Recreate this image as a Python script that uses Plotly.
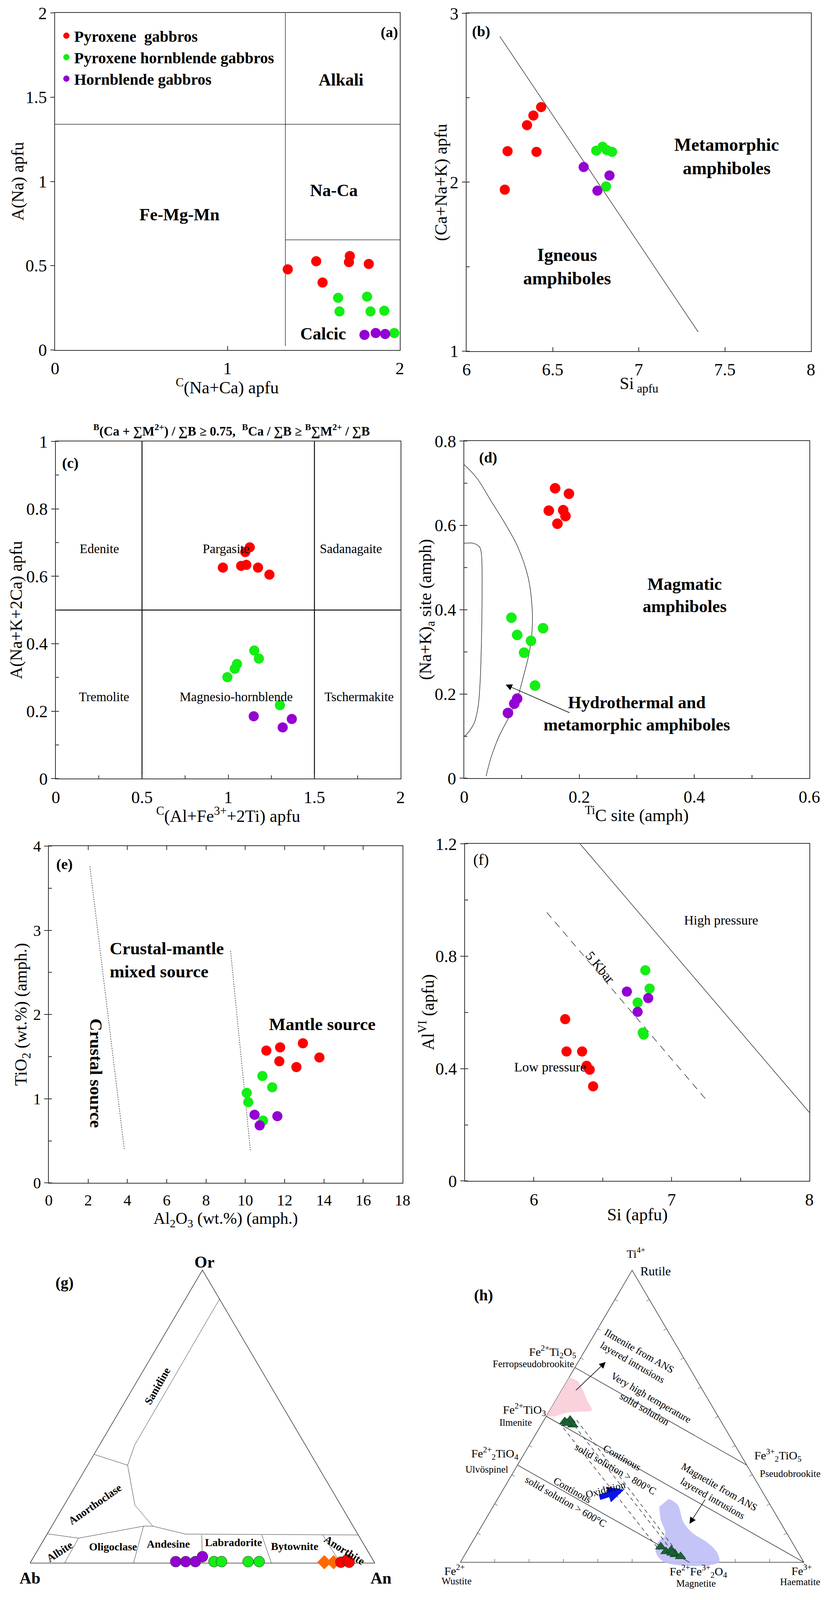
import numpy as np
import plotly.graph_objects as go

W, H = 2113, 4164
OFF = 8                      # default <body> margin of the written page
SY = 0.981                   # vertical fit so the whole sheet stays inside the visible page
FW = W - 2 * OFF
FH = 4066
SERIF = "Liberation Serif, Times New Roman, serif"
RED, GREEN, PURPLE, ORANGE = "#ff0000", "#14ee14", "#9400d3", "#ff6a00"
AX = "#333333"
SUF = {"a": "", "b": "2", "c": "3", "d": "4", "e": "5", "f": "6", "g": "7", "h": "8"}

# ---------------- (a) C(Na+Ca) vs A(Na)
a_red_x = [1.350, 1.515, 1.710, 1.705, 1.820, 1.552]
a_red_y = [0.478, 0.526, 0.557, 0.521, 0.510, 0.400]
a_green_x = [1.642, 1.810, 1.650, 1.830, 1.910, 1.968]
a_green_y = [0.309, 0.316, 0.228, 0.228, 0.232, 0.100]
a_purple_x = [1.795, 1.860, 1.915]
a_purple_y = [0.089, 0.100, 0.094]
a_split_x = 1.336
a_split_y = [1.339, 0.653]

# ---------------- (b) Si vs Ca+Na+K
b_red_x = [6.222, 6.238, 6.406, 6.351, 6.388, 6.433]
b_red_y = [1.956, 2.184, 2.180, 2.338, 2.395, 2.445]
b_green_x = [6.753, 6.790, 6.815, 6.845, 6.810]
b_green_y = [2.187, 2.210, 2.190, 2.180, 1.975]
b_purple_x = [6.680, 6.830, 6.760]
b_purple_y = [2.090, 2.040, 1.950]
b_line_x = [6.193, 7.345]
b_line_y = [2.864, 1.113]

# ---------------- (c) C(Al+Fe3+2Ti) vs A(Na+K+2Ca)
c_red_x = [0.969, 1.075, 1.105, 1.173, 1.239, 1.099, 1.125]
c_red_y = [0.626, 0.631, 0.634, 0.626, 0.605, 0.672, 0.686]
c_green_x = [1.151, 1.178, 1.051, 1.038, 0.995, 1.300]
c_green_y = [0.380, 0.356, 0.340, 0.326, 0.301, 0.218]
c_purple_x = [1.148, 1.316, 1.369]
c_purple_y = [0.185, 0.152, 0.177]

# ---------------- (d) Ti(C) vs (Na+K)A
d_red_x = [0.158, 0.182, 0.147, 0.172, 0.176, 0.162]
d_red_y = [0.688, 0.675, 0.635, 0.636, 0.622, 0.604]
d_green_x = [0.082, 0.092, 0.116, 0.137, 0.104, 0.123]
d_green_y = [0.381, 0.340, 0.326, 0.356, 0.298, 0.220]
d_purple_x = [0.076, 0.087, 0.092]
d_purple_y = [0.155, 0.177, 0.189]
d_outer_x = [0.0, 0.022, 0.047, 0.072, 0.093, 0.111, 0.118, 0.118, 0.113, 0.102, 0.093, 0.079, 0.060, 0.047, 0.038]
d_outer_y = [0.744, 0.712, 0.657, 0.602, 0.549, 0.477, 0.405, 0.352, 0.298, 0.237, 0.193, 0.149, 0.098, 0.051, 0.005]
d_inner_x = [0.0, 0.017, 0.027, 0.030, 0.031, 0.030, 0.0276, 0.024, 0.017, 0.004, 0.0]
d_inner_y = [0.5575, 0.557, 0.548, 0.530, 0.45, 0.33, 0.228, 0.169, 0.130, 0.104, 0.100]

# ---------------- (e) Al2O3 vs TiO2
e_red_x = [11.07, 11.77, 12.93, 13.77, 11.73, 12.60]
e_red_y = [1.572, 1.610, 1.659, 1.490, 1.445, 1.376]
e_green_x = [10.87, 11.37, 10.07, 10.15, 10.90]
e_green_y = [1.270, 1.136, 1.070, 0.960, 0.740]
e_purple_x = [10.47, 10.73, 11.63]
e_purple_y = [0.810, 0.683, 0.793]
e_crust_x = [2.09, 3.84]
e_crust_y = [3.76, 0.40]
e_mix_x = [9.25, 10.26]
e_mix_y = [2.755, 0.38]

# ---------------- (f) Si vs AlVI
f_red_x = [6.227, 6.237, 6.350, 6.383, 6.405, 6.430]
f_red_y = [0.576, 0.461, 0.461, 0.410, 0.396, 0.337]
f_green_x = [6.809, 6.840, 6.753, 6.790, 6.797]
f_green_y = [0.750, 0.685, 0.635, 0.528, 0.521]
f_purple_x = [6.675, 6.830, 6.753]
f_purple_y = [0.674, 0.651, 0.602]
f_high_x = [6.335, 8.0]
f_high_y = [1.2, 0.244]
f_5kbar_x = [6.094, 7.25]
f_5kbar_y = [0.956, 0.290]

# ---------------- (g) feldspar Or-Ab-An (percent)
g_purple_an = [42.0, 44.9, 47.7, 48.9]
g_purple_or = [0.5, 0.5, 0.5, 2.2]
g_green_an = [53.1, 55.3, 63.0, 66.2]
g_green_or = [0.5, 0.5, 0.5, 0.5]
g_red_an = [90.0, 91.4, 92.4]
g_red_or = [0.3, 1.1, 0.3]
g_orange_an = [85.2, 87.9]
g_orange_or = [0.3, 0.3]
g_base_or = [10.0, 8.5, 12.6, 12.6, 9.9, 9.6]
g_base_an = [0.0, 9.8, 26.6, 29.3, 40.1, 90.4]
g_anor_or = [37.1, 33.4, 19.8, 12.6]
g_anor_an = [0.0, 11.6, 20.5, 29.3]
g_san_or = [33.4, 40.3, 90.1]
g_san_an = [11.6, 10.2, 9.9]
g_div_an_bottom = [10.0, 30.0, 50.0, 70.0, 90.0]
g_div_or_top = [8.5, 12.6, 9.6, 9.6, 9.6]
g_div_an_top = [9.8, 26.6, 45.0, 62.4, 80.1]

# ---------------- (h) Ti4+ - Fe2+ - Fe3+ (fractions: Ti, Fe3+)
h_ilm_ti = [0.482, 0.487, 0.471, 0.476]
h_ilm_fe3 = [0.063, 0.076, 0.092, 0.072]
h_mt_ti = [0.053, 0.037, 0.042, 0.027, 0.020, 0.032]
h_mt_fe3 = [0.557, 0.580, 0.593, 0.612, 0.631, 0.600]
h_pink_ti = [0.633, 0.619, 0.587, 0.550, 0.521, 0.516, 0.513, 0.500, 0.500]
h_pink_fe3 = [0.0, 0.033, 0.064, 0.096, 0.122, 0.092, 0.055, 0.024, 0.0]
h_blue_ti = [0.217, 0.196, 0.138, 0.101, 0.069, 0.032, 0.0, 0.0, 0.037, 0.069, 0.095, 0.148, 0.190]
h_blue_fe3 = [0.498, 0.535, 0.580, 0.625, 0.683, 0.732, 0.752, 0.595, 0.550, 0.541, 0.549, 0.509, 0.484]
h_join_ti = [[0.667, 0.333], [0.5, 0.0], [0.333, 0.0]]
h_join_fe3 = [[0.0, 0.667], [0.0, 1.0], [0.0, 0.667]]
h_dash_ti = [[0.460, 0.042], [0.487, 0.037], [0.487, 0.032]]
h_dash_fe3 = [[0.070, 0.558], [0.076, 0.599], [0.095, 0.617]]
h_arrow_ti = [[0.587, 0.686], [0.217, 0.132]]
h_arrow_fe3 = [[0.041, 0.080], [0.605, 0.601]]
h_oxid_ti = [0.222, 0.249]
h_oxid_fe3 = [0.2925, 0.352]


def tern(top, right):
    top = np.asarray(top, float)
    right = np.asarray(right, float)
    return right + top / 2, top * np.sqrt(3) / 2


def clamp(v):
    return min(1.0, max(0.0, v))


def fx(px):
    return (px - OFF) / FW


def fy(py):
    return 1 - (py * SY - OFF) / FH


PY_MAX = (FH + OFF) / SY     # lowest sheet row that still falls inside the figure

fig = go.Figure()
notes = []


def frame(p, xpx, ypx, xr, yr, xdt, ydt, xminor=None, yminor=None, xmirror=True, tsize=44):
    s = SUF[p]
    base = dict(showgrid=False, zeroline=False, showline=True, linecolor=AX, linewidth=2,
                tickcolor=AX, tickwidth=1.5, ticklen=10, automargin=False,
                tickfont=dict(family=SERIF, size=tsize, color="black"))
    xa = dict(base, domain=[clamp(fx(xpx[0])), clamp(fx(xpx[1]))], range=xr, dtick=xdt,
              ticks="inside", mirror=xmirror, anchor="y" + s, ticklabelstandoff=8)
    if xminor:
        xa["minor"] = dict(dtick=xminor, ticks="inside", ticklen=8, tickcolor=AX)
    ya = dict(base, domain=[clamp(fy(ypx[1])), clamp(fy(ypx[0]))], range=yr, dtick=ydt,
              ticks="outside", mirror=True, anchor="x" + s)
    if yminor:
        ya["minor"] = dict(dtick=yminor, ticks="inside", ticklen=8, tickcolor=AX)
    fig.update_layout({"xaxis" + s: xa, "yaxis" + s: ya})


def hidden(p, xpx, ypx, origin, scale):
    # invisible axes whose unit is `scale` sheet pixels, with (0, 0) at sheet pixel `origin`
    s = SUF[p]
    xr = [(xpx[0] - origin[0]) / scale, (xpx[1] - origin[0]) / scale]
    yr = [(origin[1] - ypx[1]) / scale, (origin[1] - ypx[0]) / scale]
    fig.update_layout({
        "xaxis" + s: dict(domain=[clamp(fx(xpx[0])), clamp(fx(xpx[1]))], range=xr,
                          visible=False, anchor="y" + s),
        "yaxis" + s: dict(domain=[clamp(fy(ypx[1])), clamp(fy(ypx[0]))], range=yr,
                          visible=False, anchor="x" + s),
    })


def dots(p, xs, ys, color, name, legend=False, size=26, symbol="circle", line=None):
    s = SUF[p]
    fig.add_trace(go.Scatter(x=xs, y=ys, mode="markers", xaxis="x" + s, yaxis="y" + s,
                             name=name, legendgroup=name, showlegend=legend, hoverinfo="skip",
                             marker=dict(color=color, size=size, symbol=symbol,
                                         line=line or dict(width=0))))


def path(p, xs, ys, width=1.5, dash="solid", color=AX, shape="linear"):
    s = SUF[p]
    fig.add_trace(go.Scatter(x=xs, y=ys, mode="lines", xaxis="x" + s, yaxis="y" + s,
                             showlegend=False, hoverinfo="skip",
                             line=dict(color=color, width=width, dash=dash, shape=shape)))


def note(p, x, y, text, size=44, bold=False, angle=0, xanchor="center", align="center"):
    s = SUF[p]
    notes.append(dict(xref="x" + s, yref="y" + s, x=x, y=y, text=text, showarrow=False,
                      textangle=angle, xanchor=xanchor, yanchor="middle", align=align,
                      font=dict(family=SERIF, size=size, color="black",
                                weight="bold" if bold else "normal")))


def ptitle(xpx, ypx, text, angle=0, size=44, bold=False):
    notes.append(dict(xref="paper", yref="paper", x=fx(xpx), y=fy(ypx), text=text,
                      showarrow=False, textangle=angle, xanchor="center", yanchor="middle",
                      font=dict(family=SERIF, size=size, color="black",
                                weight="bold" if bold else "normal")))


def arrow(p, x, y, ax, ay, color="black", width=1.5, size=2.0, head=2):
    s = SUF[p]
    notes.append(dict(xref="x" + s, yref="y" + s, axref="x" + s, ayref="y" + s,
                      x=x, y=y, ax=ax, ay=ay, text="", showarrow=True, arrowhead=head,
                      arrowsize=size, arrowwidth=width, arrowcolor=color))


# ---------- frames
frame("a", (141, 1024), (34, 913), [0, 2], [0, 2], 1, 0.5)
frame("b", (1195, 2077), (35, 916), [6, 8], [1, 3], 0.5, 1, yminor=0.5)
frame("c", (143, 1026), (1152, 2032), [0, 2], [0, 1], 0.5, 0.2, xminor=0.25, yminor=0.1)
frame("d", (1189, 2073), (1151, 2031), [0, 0.6], [0, 0.8], 0.2, 0.2, xminor=0.1, yminor=0.1)
frame("e", (125, 1031), (2208, 3087), [0, 18], [0, 4], 2, 1, yminor=0.5, xmirror="ticks", tsize=40)
frame("f", (1191, 2073), (2202, 3082), [5.5, 8], [0, 1.2], 1, 0.4, xminor=0.5, yminor=0.2)
hidden("g", (OFF, 1056), (3250, PY_MAX), (77, 4079), 883)
hidden("h", (1056, W - OFF), (3250, PY_MAX), (1179, 4077), 880)

# ---------- axis titles
ptitle(582, 1009, "<sup>C</sup>(Na+Ca) apfu")
ptitle(45, 473, "A(Na) apfu", -90)
ptitle(1636, 1004, "Si<sub> apfu</sub>")
ptitle(1130, 476, "(Ca+Na+K) apfu", -90)
ptitle(584, 2127, "<sup>C</sup>(Al+Fe<sup>3+</sup>+2Ti) apfu")
ptitle(42, 1592, "A(Na+K+2Ca) apfu", -90)
ptitle(1631, 2125, "<sup>Ti</sup>C site (amph)")
ptitle(1093, 1591, "(Na+K)<sub>a</sub> site (amph)", -90)
ptitle(578, 3182, "Al<sub>2</sub>O<sub>3</sub> (wt.%) (amph.)", size=42)
ptitle(57, 2647, "TiO<sub>2</sub> (wt.%) (amph.)", -90)
ptitle(1632, 3170, "Si (apfu)")
ptitle(1093, 2642, "Al<sup>VI</sup> (apfu)", -90)
ptitle(593, 1123, "<sup>B</sup>(Ca + ∑M<sup>2+</sup>) / ∑B ≥ 0.75,  <sup>B</sup>Ca / ∑B ≥ "
                  "<sup>B</sup>∑M<sup>2+</sup> / ∑B", size=33, bold=True)

# ---------- (a)
path("a", [a_split_x, a_split_x], [0.023, 2], width=1.5)
path("a", [0, 2], [a_split_y[0]] * 2, width=1.5)
path("a", [a_split_x, 2], [a_split_y[1]] * 2, width=1.5)
dots("a", a_red_x, a_red_y, RED, "Pyroxene  gabbros", legend=True)
dots("a", a_green_x, a_green_y, GREEN, "Pyroxene hornblende gabbros", legend=True)
dots("a", a_purple_x, a_purple_y, PURPLE, "Hornblende gabbros", legend=True)
note("a", 1.660, 1.602, "Alkali", 44, True)
note("a", 1.617, 0.947, "Na-Ca", 44, True)
note("a", 0.722, 0.803, "Fe-Mg-Mn", 44, True)
note("a", 1.556, 0.096, "Calcic", 44, True)
note("a", 1.939, 1.886, "(a)", 38, True)

# ---------- (b)
path("b", b_line_x, b_line_y, width=1.5)
dots("b", b_red_x, b_red_y, RED, "Pyroxene  gabbros")
dots("b", b_green_x, b_green_y, GREEN, "Pyroxene hornblende gabbros")
dots("b", b_purple_x, b_purple_y, PURPLE, "Hornblende gabbros")
note("b", 7.51, 2.153, "Metamorphic<br>amphiboles", 46, True)
note("b", 6.585, 1.50, "Igneous<br>amphiboles", 46, True)
note("b", 6.084, 2.893, "(b)", 38, True)

# ---------- (c)
path("c", [0.5, 0.5], [0, 1], width=2.5, color="#111")
path("c", [1.5, 1.5], [0, 1], width=2.5, color="#111")
path("c", [0, 2], [0.5, 0.5], width=2.5, color="#111")
dots("c", c_red_x, c_red_y, RED, "Pyroxene  gabbros")
dots("c", c_green_x, c_green_y, GREEN, "Pyroxene hornblende gabbros")
dots("c", c_purple_x, c_purple_y, PURPLE, "Hornblende gabbros")
for tx, ty, txt in [(0.252, 0.682, "Edenite"), (0.988, 0.682, "Pargasite"),
                    (1.712, 0.682, "Sadanagaite"), (0.279, 0.242, "Tremolite"),
                    (1.046, 0.242, "Magnesio-hornblende"), (1.758, 0.242, "Tschermakite")]:
    note("c", tx, ty, txt, 33)
note("c", 0.084, 0.936, "(c)", 38, True)

# ---------- (d)
path("d", d_outer_x, d_outer_y, width=1.5, shape="spline")
path("d", d_inner_x, d_inner_y, width=1.5, shape="spline")
dots("d", d_red_x, d_red_y, RED, "Pyroxene  gabbros", size=27)
dots("d", d_green_x, d_green_y, GREEN, "Pyroxene hornblende gabbros", size=27)
dots("d", d_purple_x, d_purple_y, PURPLE, "Hornblende gabbros", size=27)
arrow("d", 0.072, 0.222, 0.184, 0.155, width=1.5, size=2.2)
note("d", 0.383, 0.434, "Magmatic<br>amphiboles", 44, True)
note("d", 0.300, 0.153, "Hydrothermal and<br>metamorphic amphiboles", 44, True)
note("d", 0.0414, 0.761, "(d)", 38, True)

# ---------- (e)
path("e", e_crust_x, e_crust_y, width=1.5, dash="dot")
path("e", e_mix_x, e_mix_y, width=1.5, dash="dot")
dots("e", e_red_x, e_red_y, RED, "Pyroxene  gabbros")
dots("e", e_green_x, e_green_y, GREEN, "Pyroxene hornblende gabbros")
dots("e", e_purple_x, e_purple_y, PURPLE, "Hornblende gabbros")
note("e", 3.05, 2.649, "Crustal-mantle<br>mixed source", 45, True, xanchor="left", align="left")
note("e", 13.91, 1.886, "Mantle source", 45, True)
note("e", 2.39, 1.303, "Crustal source", 45, True, angle=90)
note("e", 0.80, 3.786, "(e)", 38, True)

# ---------- (f)
path("f", f_high_x, f_high_y, width=1.5)
path("f", f_5kbar_x, f_5kbar_y, width=1.5, dash="18px,14px")
dots("f", f_red_x, f_red_y, RED, "Pyroxene  gabbros")
dots("f", f_green_x, f_green_y, GREEN, "Pyroxene hornblende gabbros")
dots("f", f_purple_x, f_purple_y, PURPLE, "Hornblende gabbros")
note("f", 7.358, 0.929, "High pressure", 34)
note("f", 6.119, 0.406, "Low pressure", 34)
note("f", 6.482, 0.760, "5 Kbar", 34, angle=50)
note("f", 5.617, 1.144, "(f)", 40)

# ---------- (g) feldspar ternary
gx, gy = tern([0, 0, 1, 0], [0, 1, 0, 0])
path("g", gx, gy, width=1.5)
for o_arr, a_arr in [(g_base_or, g_base_an), (g_anor_or, g_anor_an), (g_san_or, g_san_an)]:
    lx, ly = tern(np.array(o_arr) / 100, np.array(a_arr) / 100)
    path("g", lx, ly, width=1)
for an0, ot, at in zip(g_div_an_bottom, g_div_or_top, g_div_an_top):
    lx, ly = tern([0, ot / 100], [an0 / 100, at / 100])
    path("g", lx, ly, width=1)
mline = dict(width=1, color="#333")
for o_arr, a_arr, col, sym in [(g_purple_or, g_purple_an, PURPLE, "circle"),
                               (g_green_or, g_green_an, GREEN, "circle"),
                               (g_orange_or, g_orange_an, ORANGE, "diamond"),
                               (g_red_or, g_red_an, RED, "circle")]:
    px_, py_ = tern(np.array(o_arr) / 100, np.array(a_arr) / 100)
    dots("g", px_, py_, col, "g", size=28, symbol=sym,
         line=mline if sym == "circle" else dict(width=0))
note("g", 0.506, 0.890, "Or", 42, True)
note("g", 0.0, -0.044, "Ab", 42, True)
note("g", 1.018, -0.044, "An", 42, True)
note("g", 0.0997, 0.829, "(g)", 40, True)
for tx, ty, txt, ang in [(0.369, 0.523, "Sanidine", -60), (0.189, 0.174, "Anorthoclase", -35),
                         (0.085, 0.034, "Albite", -33), (0.241, 0.048, "Oligoclase", 0),
                         (0.401, 0.057, "Andesine", 0), (0.590, 0.061, "Labradorite", 0),
                         (0.767, 0.050, "Bytownite", 0), (0.912, 0.0385, "Anorthite", 32)]:
    note("g", tx, ty, txt, 28, True, angle=ang)

# ---------- (h) Fe-Ti oxide ternary
corners = np.array(tern([0, 0, 1], [0, 1, 0])).T
hx, hy = tern([0, 0, 1, 0], [0, 1, 0, 0])
path("h", hx, hy, width=1.5)
centre = corners.mean(axis=0)
tx_, ty_ = [], []
for i in range(3):
    p0, p1 = corners[i], corners[(i + 1) % 3]
    d = p1 - p0
    n = np.array([-d[1], d[0]]) / np.linalg.norm(d)
    if np.dot(centre - p0, n) < 0:
        n = -n
    for k in range(1, 10):
        q = p0 + d * k / 10
        tx_ += [q[0], q[0] + n[0] * 0.01, None]
        ty_ += [q[1], q[1] + n[1] * 0.01, None]
path("h", tx_, ty_, width=1)

px_, py_ = tern(h_pink_ti, h_pink_fe3)
fig.add_trace(go.Scatter(x=px_, y=py_, xaxis="x8", yaxis="y8", mode="lines", fill="toself",
                         fillcolor="rgba(248,205,215,0.9)", line=dict(width=0, shape="spline"),
                         showlegend=False, hoverinfo="skip"))
px_, py_ = tern(h_blue_ti, h_blue_fe3)
fig.add_trace(go.Scatter(x=px_, y=py_, xaxis="x8", yaxis="y8", mode="lines", fill="toself",
                         fillcolor="rgba(190,190,245,0.9)", line=dict(width=0, shape="spline"),
                         showlegend=False, hoverinfo="skip"))
for ti, fe in zip(h_join_ti, h_join_fe3):
    lx, ly = tern(ti, fe)
    path("h", lx, ly, width=1.5)
for ti, fe in zip(h_dash_ti, h_dash_fe3):
    lx, ly = tern(ti, fe)
    path("h", lx, ly, width=1.5, dash="10px,8px")
tri_line = dict(width=1, color="#0b2e18")
px_, py_ = tern(h_ilm_ti, h_ilm_fe3)
dots("h", px_, py_, "#1b6335", "h", size=24, symbol="triangle-up", line=tri_line)
px_, py_ = tern(h_mt_ti, h_mt_fe3)
dots("h", px_, py_, "#1b6335", "h", size=24, symbol="triangle-up", line=tri_line)
for ti, fe in zip(h_arrow_ti, h_arrow_fe3):
    (x0, x1), (y0, y1) = tern(ti, fe)
    arrow("h", x1, y1, x0, y0, width=1.5, size=2.2)
(ox0, ox1), (oy0, oy1) = tern(h_oxid_ti, h_oxid_fe3)
arrow("h", ox1, oy1, ox0, oy0, color="#0a14e6", width=14, size=0.6, head=2)

note("h", 0.511, 0.918, "Ti<sup>4+</sup>", 30)
note("h", 0.568, 0.864, "Rutile", 32)
note("h", 0.269, 0.624, "Fe<sup>2+</sup>Ti<sub>2</sub>O<sub>5</sub>", 30)
note("h", 0.212, 0.589, "Ferropseudobrookite", 25)
note("h", 0.186, 0.453, "Fe<sup>2+</sup>TiO<sub>3</sub>", 30)
note("h", 0.161, 0.415, "Ilmenite", 25)
note("h", 0.101, 0.323, "Fe<sup>2+</sup><sub>2</sub>TiO<sub>4</sub>", 30)
note("h", 0.077, 0.276, "Ulvöspinel", 25)
note("h", 0.924, 0.318, "Fe<sup>3+</sup><sub>2</sub>TiO<sub>5</sub>", 30)
note("h", 0.960, 0.263, "Pseudobrookite", 25)
note("h", -0.017, -0.022, "Fe<sup>2+</sup>", 30)
note("h", -0.011, -0.056, "Wustite", 25)
note("h", 0.993, -0.022, "Fe<sup>3+</sup>", 30)
note("h", 0.989, -0.058, "Haematite", 25)
note("h", 0.693, -0.027, "Fe<sup>2+</sup>Fe<sup>3+</sup><sub>2</sub>O<sub>4</sub>", 30)
note("h", 0.686, -0.063, "Magnetite", 25)
note("h", 0.068, 0.7925, "(h)", 40, True)
note("h", 0.511, 0.609, "Ilmenite from ANS<br>layered intrusions", 26, angle=30)
note("h", 0.545, 0.472, "Very high temperature<br>solid solution", 26, angle=30)
note("h", 0.461, 0.293, "Continous<br>solid solution > 800°C", 26, angle=30)
note("h", 0.316, 0.197, "Continous<br>solid solution > 600°C", 26, angle=30)
note("h", 0.423, 0.215, "Oxidation", 26, angle=-15)
note("h", 0.744, 0.206, "Magnetite from ANS<br>layered intrusions", 26, angle=30)

fig.update_layout(
    width=FW, height=FH, margin=dict(l=0, r=0, t=0, b=0),
    paper_bgcolor="white", plot_bgcolor="white",
    font=dict(family=SERIF, color="black"),
    annotations=notes,
    legend=dict(x=fx(150), y=fy(60), xanchor="left", yanchor="top",
                bgcolor="rgba(0,0,0,0)", tracegroupgap=0,
                font=dict(family=SERIF, size=40, color="black", weight="bold")),
)

fig.write_html("out.html")
